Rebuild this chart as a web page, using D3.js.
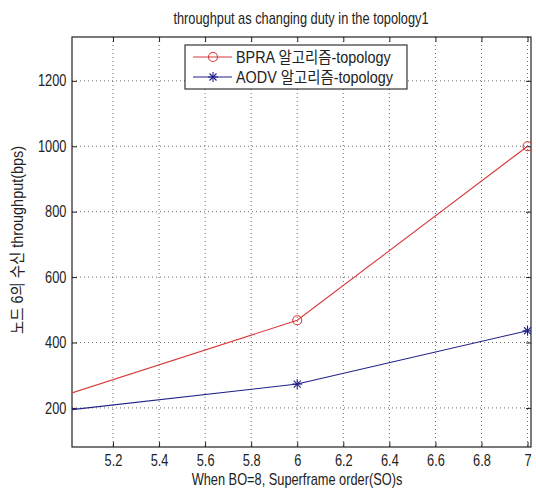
<!DOCTYPE html>
<html><head><meta charset="utf-8">
<script src="https://cdn.jsdelivr.net/npm/d3@7"></script>
<style>
body{margin:0;background:#fff;}
text{font-family:"Liberation Sans","Noto Sans CJK KR",sans-serif;fill:#222;}
</style></head>
<body>
<svg id="c" width="536" height="488"></svg>
<script>
const xValues = [5, 6, 7];
const bpraValues = [241, 468, 1000];
const aodvValues = [193, 273, 436];
const seriesNames = ["BPRA 알고리즘-topology", "AODV 알고리즘-topology"];
const xTicks = [5.2, 5.4, 5.6, 5.8, 6, 6.2, 6.4, 6.6, 6.8, 7];
const yTicks = [200, 400, 600, 800, 1000, 1200];
const titleText = "throughput as changing duty in the topology1";
const xLabel = "When BO=8, Superframe order(SO)s";
const yLabel = "노드 6의 수신 throughput(bps)";

const svg = d3.select("#c");
const L = 72, R = 531, T = 37, B = 447;
const SX = 0.8, FS = "16px";
const x = d3.scaleLinear().domain([5.022, 7.015]).range([L, R]);
const y = d3.scaleLinear().domain([80.6, 1334]).range([B, T]);

const g = svg.append("g");
g.selectAll(".gx").data(xTicks).join("line")
  .attr("x1", d => x(d)).attr("x2", d => x(d)).attr("y1", T).attr("y2", B)
  .attr("stroke", "#444").attr("stroke-width", 0.8).attr("stroke-dasharray", "1,3");
g.selectAll(".gy").data(yTicks).join("line")
  .attr("y1", d => y(d)).attr("y2", d => y(d)).attr("x1", L).attr("x2", R)
  .attr("stroke", "#444").attr("stroke-width", 0.8).attr("stroke-dasharray", "1,3");

const ax = svg.append("g").attr("transform", `translate(0,${B})`)
  .call(d3.axisBottom(x).tickValues(xTicks).tickSize(-5).tickPadding(8).tickFormat(d3.format("")));
const axT = svg.append("g").attr("transform", `translate(0,${T})`)
  .call(d3.axisTop(x).tickValues(xTicks).tickSize(-5).tickFormat(""));
const ay = svg.append("g").attr("transform", `translate(${L},0)`)
  .call(d3.axisLeft(y).tickValues(yTicks).tickSize(-5).tickPadding(7).tickFormat(d3.format("d")));
const ayR = svg.append("g").attr("transform", `translate(${R},0)`)
  .call(d3.axisRight(y).tickValues(yTicks).tickSize(-5).tickFormat(""));
[ax, axT, ay, ayR].forEach(a => {
  a.selectAll("path").remove();
  a.selectAll("line").attr("stroke", "#222");
  a.selectAll("text").style("font-size", FS).attr("fill", "#222")
    .attr("transform", `scale(${SX},1)`);
});
svg.append("rect").attr("x", L).attr("y", T).attr("width", R - L).attr("height", B - T)
  .attr("fill", "none").attr("stroke", "#222").attr("stroke-width", 1.2);

svg.append("clipPath").attr("id", "clp").append("rect")
  .attr("x", L).attr("y", T).attr("width", R - L).attr("height", B - T);
const line = d3.line().x(d => x(d[0])).y(d => y(d[1]));
const red = "#d83a3a", blue = "#202088";
const pr = xValues.map((v, i) => [v, bpraValues[i]]);
const pb = xValues.map((v, i) => [v, aodvValues[i]]);
const pl = svg.append("g").attr("clip-path", "url(#clp)");
pl.append("path").attr("d", line(pr)).attr("fill", "none").attr("stroke", red).attr("stroke-width", 1.1);
pl.append("path").attr("d", line(pb)).attr("fill", "none").attr("stroke", blue).attr("stroke-width", 1.1);

function star(sel, cx, cy, s, col) {
  const gg = sel.append("g").attr("stroke", col).attr("stroke-width", 1.1);
  gg.append("line").attr("x1", cx - s).attr("x2", cx + s).attr("y1", cy).attr("y2", cy);
  gg.append("line").attr("x1", cx).attr("x2", cx).attr("y1", cy - s).attr("y2", cy + s);
  const d = s * 0.7;
  gg.append("line").attr("x1", cx - d).attr("x2", cx + d).attr("y1", cy - d).attr("y2", cy + d);
  gg.append("line").attr("x1", cx - d).attr("x2", cx + d).attr("y1", cy + d).attr("y2", cy - d);
}
pr.forEach(p => pl.append("circle").attr("cx", x(p[0])).attr("cy", y(p[1])).attr("r", 4.5)
  .attr("fill", "none").attr("stroke", red).attr("stroke-width", 1.1));
pb.forEach(p => star(pl, x(p[0]), y(p[1]), 5, blue));

const lg = svg.append("g");
const lx = 185, ly = 45, lw = 222, lh = 44;
lg.append("rect").attr("x", lx).attr("y", ly).attr("width", lw).attr("height", lh)
  .attr("fill", "#fff").attr("stroke", "#222").attr("stroke-width", 1.1);
[0, 1].forEach(i => {
  const yy = ly + 12 + i * 20;
  const col = i === 0 ? red : blue;
  lg.append("line").attr("x1", lx + 8).attr("x2", lx + 47).attr("y1", yy).attr("y2", yy)
    .attr("stroke", col).attr("stroke-width", 1.1);
  if (i === 0) lg.append("circle").attr("cx", lx + 28).attr("cy", yy).attr("r", 4.5)
    .attr("fill", "none").attr("stroke", col).attr("stroke-width", 1.1);
  else star(lg, lx + 28, yy, 5, col);
  lg.append("text").attr("transform", `translate(${lx + 51},${yy}) scale(0.9,1)`).attr("dy", "0.36em")
    .style("font-size", FS).text(seriesNames[i]);
});

svg.append("text").attr("transform", `translate(301,24) scale(${SX},1)`).attr("text-anchor", "middle")
  .style("font-size", FS).text(titleText);
svg.append("text").attr("transform", `translate(297,485) scale(${SX},1)`).attr("text-anchor", "middle")
  .style("font-size", FS).text(xLabel);
svg.append("text").attr("transform", "translate(23,240) rotate(-90) scale(0.9,1)").attr("text-anchor", "middle")
  .style("font-size", FS).text(yLabel);
</script>
</body></html>
